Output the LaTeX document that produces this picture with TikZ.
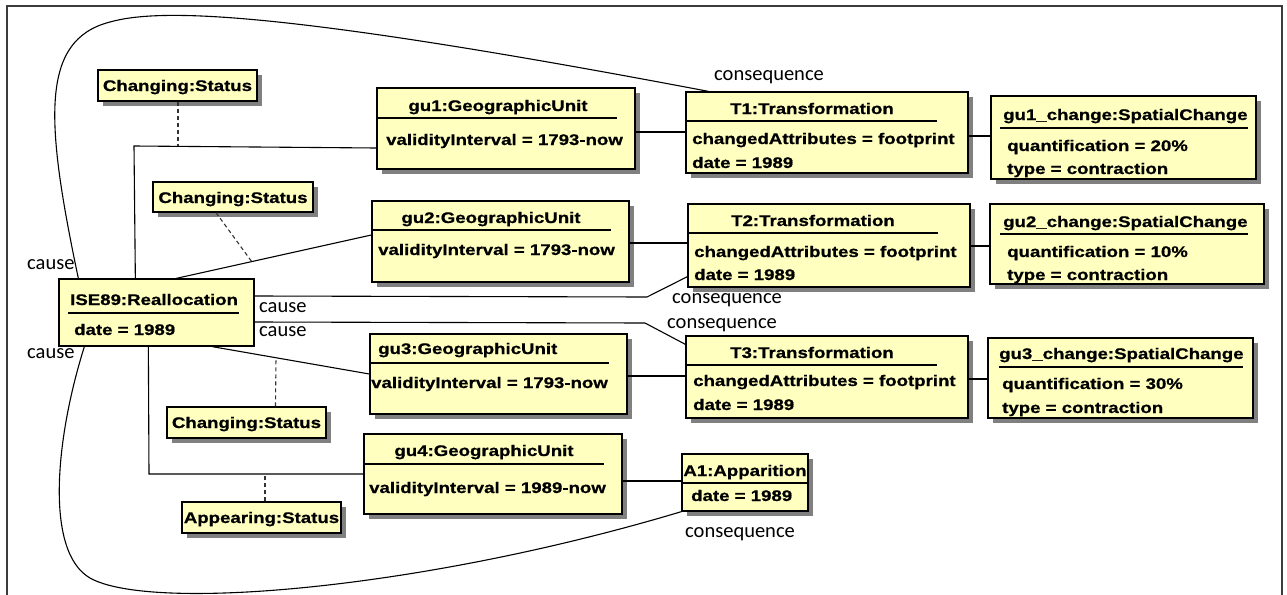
\documentclass[tikz,border=0pt]{standalone}
\usepackage{fontspec}
\newfontfamily\bxfont{Liberation Sans}[UprightFont={* Bold}, FakeStretch=1.21, FakeBold=0.8]
\newfontfamily\lbfont{Carlito}
\usetikzlibrary{fit,shadows,calc}
\definecolor{boxfill}{RGB}{255,255,192}
\definecolor{shadowgray}{RGB}{128,128,128}
\definecolor{framegray}{RGB}{60,60,60}
\tikzset{
 ubox/.style={draw=black, line width=1.3pt, fill=boxfill, inner sep=0pt},
 shbox/.style={ubox, general shadow={fill=shadowgray, shadow xshift=5pt, shadow yshift=-5pt}},
 btxt/.style={font=\bxfont\fontsize{15.4}{18}\selectfont, inner sep=0pt},
 ltxt/.style={font=\lbfont\fontsize{20.5}{24}\selectfont, inner sep=0pt},
 conn/.style={line width=1.1pt, black},
 dashconn/.style={line width=1.1pt, black!80, dash pattern=on 4pt off 3pt},
 sep/.style={line width=1.3pt, black},
}
\begin{document}
\begin{tikzpicture}[x=1pt,y=-1pt]
\useasboundingbox (0,0) rectangle (1287,594);
\fill[white] (0,0) rectangle (1287,594);
\draw[framegray, line width=1.6pt] (7,6) rectangle (1282,620);

% boxes
\node[shbox, fit={(98,70)(257,101)}] (cs1) {};
\node[shbox, fit={(153,182)(313,212)}] (cs2) {};
\node[shbox, fit={(167,407)(326,438)}] (cs3) {};
\node[shbox, fit={(182,502)(341,533)}] (aps) {};
\node[ubox, fit={(59,279)(254,346)}] (ise) {};
\node[shbox, fit={(377,88)(635,169)}] (gu1) {};
\node[shbox, fit={(372,201)(629,282)}] (gu2) {};
\node[shbox, fit={(370,334)(627,414)}] (gu3) {};
\node[shbox, fit={(364,434)(622,514)}] (gu4) {};
\node[shbox, fit={(686,92)(968,173)}] (t1) {};
\node[shbox, fit={(688,204)(970,287)}] (t2) {};
\node[shbox, fit={(686,336)(968,418)}] (t3) {};
\node[shbox, fit={(682,454)(808,511)}] (a1) {};
\node[shbox, fit={(991,96)(1256,179)}] (ch1) {};
\node[shbox, fit={(990,204)(1264,284)}] (ch2) {};
\node[shbox, fit={(988,338)(1253,418)}] (ch3) {};

% compartment lines
\draw[sep] (68,313) -- (239,313);
\draw[sep] (377,118) -- (617,118);
\draw[sep] (372,230) -- (611,230);
\draw[sep] (370,363) -- (609,363);
\draw[sep] (364,464) -- (604,464);
\draw[sep] (686,121) -- (937,121);
\draw[sep] (688,233) -- (938,233);
\draw[sep] (686,365) -- (937,365);
\draw[sep] (682,483) -- (808,483);
\draw[sep] (1000,128) -- (1248,128);
\draw[sep] (1000,234) -- (1248,234);
\draw[sep] (999,367) -- (1243,367);

% joint coordinates
\coordinate (k1) at (134,146);
\coordinate (k2) at (647,297);
\coordinate (k3) at (645,323);
\coordinate (k4) at (149,474);
\coordinate (d1) at (178,146);
\coordinate (d2) at (252,262);
\coordinate (d3) at (276,357);
\coordinate (d4) at (265,474);

% connectors
\draw[conn] ($(ise.north west)+(77,0)$) -- (k1) -- ($(gu1.west)+(0,19.5)$);
\draw[conn] ($(ise.north west)+(118,0)$) -- ($(gu2.west)+(0,-6.5)$);
\draw[conn] ($(ise.east)+(0,-16.5)$) -- (k2) -- ($(t2.south west)+(0,-11)$);
\draw[conn] ($(ise.east)+(0,9.5)$) -- (k3) -- ($(t3.north west)+(0,9)$);
\draw[conn] ($(ise.south west)+(154,0)$) -- (gu3.west);
\draw[conn] ($(ise.south west)+(90,0)$) -- (k4) -- (gu4.west);
\draw[conn] ($(gu1.east)+(0,3.5)$) -- ($(t1.west)+(0,-0.5)$);
\draw[conn] ($(gu2.east)+(0,1.5)$) -- ($(t2.west)+(0,-2.5)$);
\draw[conn] ($(gu3.east)+(0,2)$) -- ($(t3.west)+(0,-1)$);
\draw[conn] ($(gu4.east)+(0,7)$) -- ($(a1.west)+(0,-1.5)$);
\draw[conn] ($(t1.east)+(0,3.5)$) -- ($(ch1.west)+(0,-1.5)$);
\draw[conn] ($(t2.east)+(0,0.5)$) -- ($(ch2.west)+(0,2)$);
\draw[conn] ($(t3.east)+(0,2)$) -- ($(ch3.west)+(0,1)$);

\draw[dashconn] ($(cs1.south)+(0.5,0)$) -- (d1);
\draw[dashconn] ($(cs2.south)+(-17,0)$) -- (d2);
\draw[dashconn] ($(cs3.north)+(29,0)$) -- (d3);
\draw[dashconn] ($(aps.north)+(3.5,0)$) -- (d4);

\draw[conn] ($(ise.north west)+(20,0)$) .. controls (45,120) and (40,40) .. (110,22)
   .. controls (160,8) and (280,10) .. ($(t1.north west)+(23,0)$);
\draw[conn] ($(ise.south west)+(26,0)$) .. controls (55,440) and (45,552) .. (90,578)
   .. controls (150,612) and (420,590) .. (a1.south west);

% texts
\node[btxt, anchor=base] (cs1t) at (177.5,91) {Changing:Status};
\node[btxt, anchor=base] (cs2t) at (233,203) {Changing:Status};
\node[btxt, anchor=base] (cs3t) at (246.5,428) {Changing:Status};
\node[btxt, anchor=base] (apst) at (261.5,523) {Appearing:Status};

\node[btxt, anchor=base west] (iset) at (70,305) {ISE89:Reallocation};
\node[btxt, anchor=base west] (isea) at (74,335) {date = 1989};

\node[btxt, anchor=base] (gu1t) at (498,111) {gu1:GeographicUnit};
\node[btxt, anchor=base west] (gu1a) at (386,145) {validityInterval = 1793-now};
\node[btxt, anchor=base] (gu2t) at (491,223) {gu2:GeographicUnit};
\node[btxt, anchor=base west] (gu2a) at (378,255) {validityInterval = 1793-now};
\node[btxt, anchor=base west] (gu3t) at (378,354) {gu3:GeographicUnit};
\node[btxt, anchor=base west] (gu3a) at (371,388) {validityInterval = 1793-now};
\node[btxt, anchor=base] (gu4t) at (484,456) {gu4:GeographicUnit};
\node[btxt, anchor=base west] (gu4a) at (369,493) {validityInterval = 1989-now};

\node[btxt, anchor=base] (t1t) at (812,114) {T1:Transformation};
\node[btxt, anchor=base west] (t1a) at (692,144) {changedAttributes = footprint};
\node[btxt, anchor=base west] (t1b) at (692,168) {date = 1989};
\node[btxt, anchor=base] (t2t) at (813,226) {T2:Transformation};
\node[btxt, anchor=base west] (t2a) at (694,257) {changedAttributes = footprint};
\node[btxt, anchor=base west] (t2b) at (694,280) {date = 1989};
\node[btxt, anchor=base] (t3t) at (812,358) {T3:Transformation};
\node[btxt, anchor=base west] (t3a) at (693,386) {changedAttributes = footprint};
\node[btxt, anchor=base west] (t3b) at (693,410) {date = 1989};

\node[btxt, anchor=base] (a1t) at (745,476) {A1:Apparition};
\node[btxt, anchor=base west] (a1a) at (691,501) {date = 1989};

\node[btxt, anchor=base west] (ch1t) at (1003,120) {gu1\_change:SpatialChange};
\node[btxt, anchor=base west] (ch1a) at (1007,151) {quantification = 20\%};
\node[btxt, anchor=base west] (ch1b) at (1007,174) {type = contraction};
\node[btxt, anchor=base west] (ch2t) at (1003,227) {gu2\_change:SpatialChange};
\node[btxt, anchor=base west] (ch2a) at (1007,257) {quantification = 10\%};
\node[btxt, anchor=base west] (ch2b) at (1007,280) {type = contraction};
\node[btxt, anchor=base west] (ch3t) at (999,359) {gu3\_change:SpatialChange};
\node[btxt, anchor=base west] (ch3a) at (1002,389) {quantification = 30\%};
\node[btxt, anchor=base west] (ch3b) at (1002,413) {type = contraction};

% labels
\node[ltxt, anchor=base west] (l1) at (714,81) {consequence};
\node[ltxt, anchor=base west] (l2) at (672,303) {consequence};
\node[ltxt, anchor=base west] (l3) at (667,328) {consequence};
\node[ltxt, anchor=base west] (l4) at (685,537) {consequence};
\node[ltxt, anchor=base west] (l5) at (259,312) {cause};
\node[ltxt, anchor=base west] (l6) at (259,336) {cause};
\node[ltxt, anchor=base west] (l7) at (27,269) {cause};
\node[ltxt, anchor=base west] (l8) at (27,358) {cause};
\end{tikzpicture}
\end{document}
